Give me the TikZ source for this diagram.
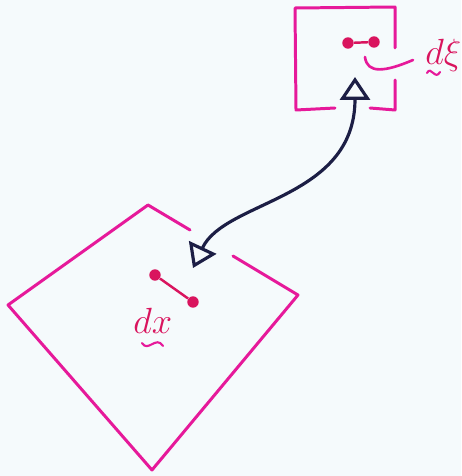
\documentclass[tikz,border=0pt]{standalone}
\usepackage{xcolor}
\usepackage{tikz}
\usetikzlibrary{arrows.meta}
\definecolor{pen}{HTML}{E6199A}
\definecolor{ink}{HTML}{D9145E}
\definecolor{navy}{HTML}{1C1E45}
\definecolor{paper}{HTML}{F5FAFC}

\begin{document}
\begin{tikzpicture}[
  x=0.02cm, y=-0.02cm,
  frame/.style={pen, line width=1.7pt, line cap=round, line join=round},
  rod/.style={ink, line width=1.4pt},
  dot/.style={circle, fill=ink, inner sep=0pt, minimum size=6.5pt},
  lbl/.style={text=ink, font=\fontsize{20}{20}\selectfont, inner sep=0pt, anchor=base west},
  tilde/.style={pen, line width=1.2pt, line cap=round},
  arr/.style={{Triangle[open, length=13pt, width=17pt]}-{Triangle[open, length=13pt, width=17pt]}, navy, line width=1.8pt}
]
\fill[paper] (0,0) rectangle (461,476);
\useasboundingbox (0,0) rectangle (461,476);

% small frame, top right
\draw[frame] (395,48) -- (395,7) -- (295,8) -- (296,110) -- (335,108);
\draw[frame] (370,108) -- (395,110) -- (395,80);
\node[dot] (xia) at (348,43) {};
\node[dot] (xib) at (374,42) {};
\draw[rod] (xia) -- (xib);
\node[lbl] (dxi) at (425,65) {$d\xi$};
\draw[tilde] (427,73) .. controls (431,65) and (435,81) .. (440,72);
\coordinate (lead) at (365,57);
\coordinate (tail) at (413,60);
\draw[tilde, line width=1.5pt] (lead) .. controls (367,74) and (385,72) .. (tail);

% big tilted frame, bottom left
\draw[frame] (190,230) -- (148,205) -- (8,305) -- (152,470) -- (298,295) -- (233,256);
\node[dot] (xa) at (155,275) {};
\node[dot] (xb) at (193,302) {};
\draw[rod] (xa) -- (xb);
\node[lbl] (dx) at (133,333) {$dx$};
\draw[tilde] (142,343) .. controls (148,353) and (156,335) .. (163,346);

% map between the two
\coordinate (lowtip) at (193,268);
\coordinate (hightip) at (355,77);
\draw[arr] (lowtip) .. controls (225,200) and (355,200) .. (hightip);
\end{tikzpicture}
\end{document}
